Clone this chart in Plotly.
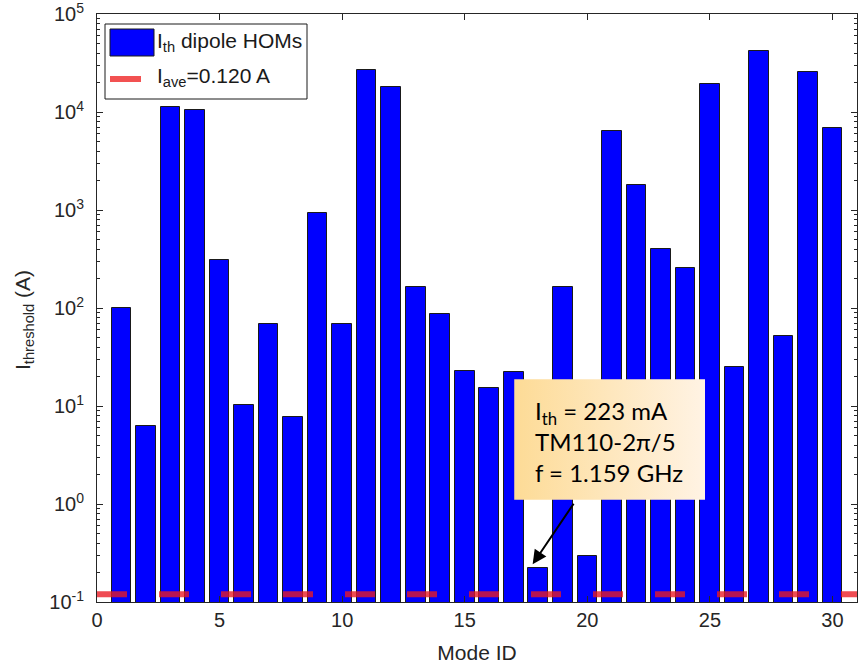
import math
import plotly.graph_objects as go

# Threshold current per dipole higher-order mode
mode_id = list(range(1, 31))
i_threshold = [100, 6.3, 11300, 10600, 310, 10.3, 69, 7.7, 930, 69,
               26800, 17900, 164, 86, 22.8, 15.1, 22.1, 0.223, 164, 0.297,
               6450, 1790, 400, 259, 19300, 25.2, 41600, 51.8, 25400, 6940]

# Average beam current
i_ave = 0.120
ave_x = [0, 31]

y_tickvals = [0.1, 1, 10, 100, 1000, 10000, 100000]
y_ticktext = ["10<sup>-1</sup>", "10<sup>0</sup>", "10<sup>1</sup>", "10<sup>2</sup>",
              "10<sup>3</sup>", "10<sup>4</sup>", "10<sup>5</sup>"]
x_tickvals = [0, 5, 10, 15, 20, 25, 30]

# Highlighted mode
hl_index = 18
hl_lines = ["I<sub>th</sub> = 223 mA", "TM110-2\u03c0/5", "f = 1.159 GHz"]

AX = "#262626"
RED = "rgba(235,25,35,0.78)"
FONT = "Liberation Sans, Arial, sans-serif"

fig = go.Figure()

fig.add_trace(go.Bar(
    x=mode_id, y=i_threshold, width=0.8,
    marker=dict(color="#0000ff", line=dict(color="#1a1a1a", width=1)),
    showlegend=False,
))

fig.add_trace(go.Scatter(
    x=ave_x, y=[i_ave, i_ave], mode="lines",
    line=dict(color=RED, width=6, dash="30px,32px"),
    showlegend=False, hoverinfo="skip",
))

# Callout box on an overlay axis spanning the plot area in 0..1 units
bx0, bx1, by0, by1 = 0.549, 0.800, 0.174, 0.379
fig.add_trace(go.Scatter(
    x=[bx0, bx1, bx1, bx0, bx0], y=[by0, by0, by1, by1, by0],
    xaxis="x2", yaxis="y2", mode="lines", line=dict(width=0),
    fill="toself",
    fillgradient=dict(type="horizontal",
                      colorscale=[[0, "#fddb96"], [1, "#fff3e4"]]),
    showlegend=False, hoverinfo="skip",
))

fig.update_layout(
    width=861, height=668,
    margin=dict(l=97, r=4, t=14, b=66),
    paper_bgcolor="white", plot_bgcolor="white",
    font=dict(family=FONT, color=AX, size=20),
    bargap=0,
    xaxis=dict(
        range=[0, 31], tickmode="array", tickvals=x_tickvals,
        ticks="inside", ticklen=6, tickcolor=AX, tickwidth=1,
        showline=True, linecolor=AX, linewidth=1, mirror="ticks",
        showgrid=False, zeroline=False,
        tickfont=dict(size=20, family=FONT, color=AX),
        title=dict(text="Mode ID", font=dict(size=21, family=FONT, color=AX), standoff=15),
        automargin=False,
    ),
    yaxis=dict(
        type="log", range=[-1, 5.0003], tickmode="array",
        tickvals=y_tickvals, ticktext=y_ticktext,
        ticks="inside", ticklen=6, tickcolor=AX, tickwidth=1,
        minor=dict(ticks="inside", ticklen=3, tickcolor=AX, dtick="D1", showgrid=False),
        showline=True, linecolor=AX, linewidth=1, mirror="ticks",
        showgrid=False, zeroline=False,
        tickfont=dict(size=20, family=FONT, color=AX),
        ticklabelstandoff=8, ticklabeloverflow="allow",
        automargin=False,
    ),
    xaxis2=dict(range=[0, 1], overlaying="x", visible=False, fixedrange=True),
    yaxis2=dict(range=[0, 1], overlaying="y", visible=False, fixedrange=True),
)

# Pixel helpers for the plot area (97..857 x 14..602)
def px_x(p):
    return (p - 97) / 760.0

def px_y(p):
    return (602 - p) / 588.0

# Y axis title
fig.add_annotation(xref="paper", yref="paper", x=px_x(24), y=px_y(320),
                   text="I<sub>threshold</sub> (A)", showarrow=False, textangle=-90,
                   xanchor="center", yanchor="middle",
                   font=dict(size=21, family=FONT, color=AX))

# Legend drawn as shapes and text
fig.add_shape(type="rect", xref="paper", yref="paper",
              x0=px_x(105), x1=px_x(307), y0=px_y(99), y1=px_y(24),
              fillcolor="white", line=dict(color="#1a1a1a", width=1), layer="above")
fig.add_shape(type="rect", xref="paper", yref="paper",
              x0=px_x(110), x1=px_x(154), y0=px_y(56), y1=px_y(29),
              fillcolor="#0000ff", line=dict(color="#1a1a1a", width=1), layer="above")
fig.add_shape(type="line", xref="paper", yref="paper",
              x0=px_x(110), x1=px_x(141), y0=px_y(79), y1=px_y(79),
              line=dict(color="rgba(240,50,50,0.85)", width=6), layer="above")
fig.add_annotation(xref="paper", yref="paper", x=px_x(155), y=px_y(42),
                   text="I<sub>th</sub> dipole HOMs", showarrow=False,
                   xanchor="left", yanchor="middle",
                   font=dict(size=21, family=FONT, color="#1a1a1a"))
fig.add_annotation(xref="paper", yref="paper", x=px_x(155), y=px_y(77),
                   text="I<sub>ave</sub>=0.120 A", showarrow=False,
                   xanchor="left", yanchor="middle",
                   font=dict(size=21, family=FONT, color="#1a1a1a"))

# Callout text and arrow
fig.add_annotation(xref="paper", yref="paper", x=px_x(533), y=px_y(441),
                   text="<br>".join(hl_lines), showarrow=False, align="left",
                   xanchor="left", yanchor="middle",
                   font=dict(size=24, family="Lato, Open Sans, sans-serif", color="black"))
fig.add_annotation(x=hl_index - 0.23, y=math.log10(i_threshold[hl_index - 1] * 1.09),
                   xref="x", yref="y", text="", showarrow=True,
                   ax=42, ay=-62, arrowhead=2, arrowsize=1.4, arrowwidth=2,
                   arrowcolor="black")

fig.write_html("out.html")
